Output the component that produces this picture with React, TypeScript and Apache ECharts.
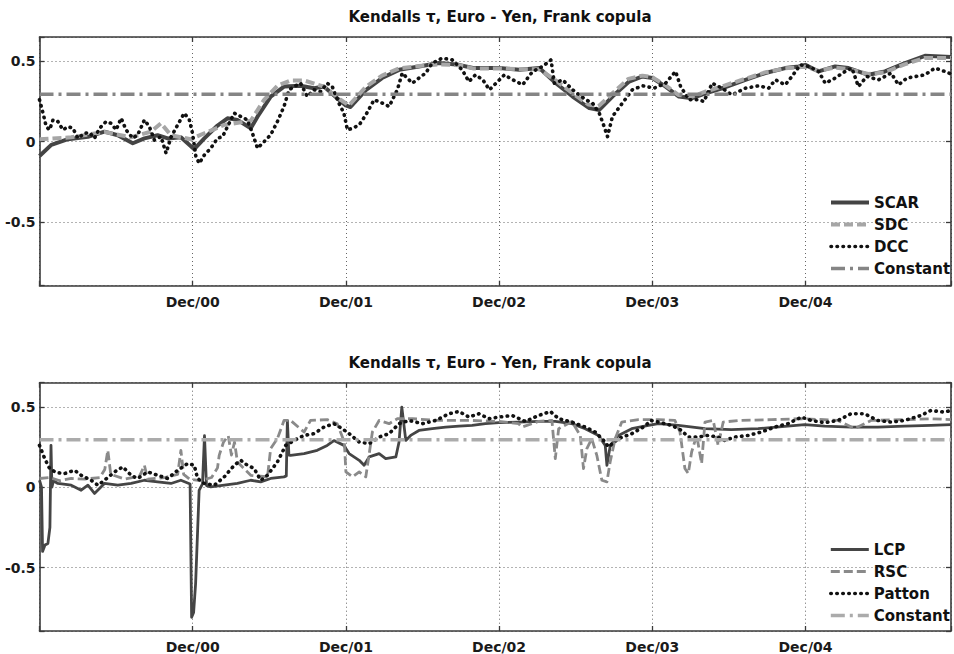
import React, { useEffect, useRef } from "react";
import * as echarts from "echarts";

// x = years since Dec/99
const xTickPos = [1, 2, 3, 4, 5];
const xTickLabels = ["Dec/00", "Dec/01", "Dec/02", "Dec/03", "Dec/04"];
const yTickPos = [-0.5, 0, 0.5];
const yTickLabels = ["-0.5", "0", "0.5"];
const X_MAX = 5.95;
const Y_MIN = -0.895;
const Y_MAX = 0.65;

const titleText = "Kendalls τ, Euro - Yen, Frank copula";
const constantTau = 0.295;

// ---------- top panel ----------
const scar: [number, number][] = [
  [0.0, -0.089], [0.077, -0.02], [0.186, 0.015], [0.316, 0.03], [0.424, 0.062], [0.511, 0.04],
  [0.609, -0.01], [0.685, 0.02], [0.771, 0.04], [0.837, 0.02], [0.923, 0.027], [1.01, -0.047],
  [1.076, 0.02], [1.162, 0.1], [1.227, 0.145], [1.292, 0.135], [1.379, 0.083], [1.423, 0.155],
  [1.509, 0.28], [1.596, 0.342], [1.704, 0.347], [1.792, 0.332], [1.857, 0.342], [1.943, 0.27],
  [1.999, 0.225], [2.03, 0.215], [2.13, 0.32], [2.236, 0.395], [2.347, 0.446], [2.477, 0.467],
  [2.607, 0.488], [2.738, 0.477], [2.829, 0.457], [3.003, 0.457], [3.133, 0.446], [3.263, 0.457],
  [3.371, 0.363], [3.48, 0.28], [3.589, 0.208], [3.654, 0.197], [3.74, 0.28], [3.849, 0.373],
  [3.936, 0.405], [4.001, 0.395], [4.087, 0.342], [4.174, 0.28], [4.261, 0.27], [4.348, 0.3],
  [4.478, 0.338], [4.608, 0.384], [4.738, 0.426], [4.868, 0.457], [4.956, 0.467], [4.999, 0.477],
  [5.086, 0.436], [5.194, 0.467], [5.281, 0.457], [5.411, 0.415], [5.519, 0.436], [5.65, 0.488],
  [5.78, 0.533], [5.95, 0.525],
];

const sdc: [number, number][] = [
  [0.0, 0.015], [0.207, 0.027], [0.424, 0.06], [0.598, 0.027], [0.728, 0.062], [0.793, 0.114],
  [0.858, 0.04], [0.988, 0.015], [1.076, 0.052], [1.206, 0.104], [1.379, 0.13], [1.466, 0.26],
  [1.553, 0.347], [1.639, 0.38], [1.727, 0.38], [1.857, 0.342], [1.965, 0.26], [2.02, 0.225],
  [2.13, 0.34], [2.236, 0.41], [2.347, 0.455], [2.477, 0.47], [2.607, 0.48], [2.738, 0.475],
  [2.829, 0.455], [3.0, 0.455], [3.13, 0.45], [3.26, 0.45], [3.37, 0.38], [3.48, 0.3],
  [3.584, 0.23], [3.649, 0.22], [3.74, 0.3], [3.844, 0.39], [3.936, 0.41], [4.0, 0.4],
  [4.086, 0.35], [4.17, 0.29], [4.26, 0.28], [4.346, 0.31], [4.476, 0.35], [4.606, 0.39],
  [4.736, 0.43], [4.866, 0.455], [4.996, 0.465], [5.087, 0.44], [5.19, 0.46], [5.28, 0.45],
  [5.41, 0.42], [5.517, 0.43], [5.647, 0.48], [5.777, 0.52], [5.95, 0.52],
];

const dcc: [number, number][] = [
  [0.0, 0.26], [0.023, 0.177], [0.044, 0.093], [0.066, 0.073], [0.088, 0.135], [0.12, 0.125],
  [0.153, 0.073], [0.186, 0.093], [0.218, 0.083], [0.251, 0.021], [0.294, 0.052], [0.327, 0.056],
  [0.359, 0.021], [0.392, 0.083], [0.435, 0.125], [0.467, 0.114], [0.5, 0.073], [0.533, 0.146],
  [0.565, 0.073], [0.609, 0.021], [0.641, 0.042], [0.685, 0.135], [0.717, 0.093], [0.75, 0.01],
  [0.793, 0.031], [0.826, -0.072], [0.858, 0.027], [0.902, 0.104], [0.945, 0.177], [0.978, 0.135],
  [0.999, 0.052], [1.021, -0.093], [1.043, -0.135], [1.076, -0.083], [1.118, -0.041], [1.162, 0.021],
  [1.195, 0.031], [1.227, 0.093], [1.271, 0.177], [1.314, 0.156], [1.357, 0.135], [1.39, 0.052],
  [1.423, -0.041], [1.466, 0.0], [1.509, 0.042], [1.553, 0.125], [1.596, 0.218], [1.629, 0.322],
  [1.661, 0.342], [1.704, 0.363], [1.748, 0.28], [1.792, 0.322], [1.835, 0.311], [1.878, 0.363],
  [1.911, 0.342], [1.954, 0.239], [1.987, 0.177], [2.01, 0.073], [2.043, 0.083], [2.087, 0.104],
  [2.13, 0.166], [2.184, 0.26], [2.238, 0.239], [2.282, 0.218], [2.336, 0.322], [2.368, 0.426],
  [2.434, 0.363], [2.477, 0.395], [2.521, 0.426], [2.564, 0.488], [2.629, 0.519], [2.694, 0.508],
  [2.759, 0.446], [2.803, 0.373], [2.846, 0.415], [2.894, 0.384], [2.937, 0.322], [2.98, 0.363],
  [3.035, 0.415], [3.089, 0.384], [3.154, 0.353], [3.219, 0.436], [3.284, 0.467], [3.339, 0.508],
  [3.361, 0.363], [3.415, 0.384], [3.48, 0.322], [3.566, 0.26], [3.61, 0.239], [3.654, 0.177],
  [3.686, 0.093], [3.708, 0.031], [3.74, 0.156], [3.805, 0.239], [3.87, 0.322], [3.936, 0.347],
  [4.012, 0.332], [4.087, 0.363], [4.152, 0.436], [4.185, 0.342], [4.24, 0.26], [4.305, 0.26],
  [4.337, 0.249], [4.391, 0.363], [4.456, 0.332], [4.521, 0.29], [4.608, 0.332], [4.695, 0.347],
  [4.76, 0.332], [4.803, 0.384], [4.868, 0.353], [4.912, 0.405], [4.966, 0.477], [5.021, 0.467],
  [5.086, 0.436], [5.129, 0.363], [5.194, 0.395], [5.259, 0.436], [5.303, 0.457], [5.346, 0.342],
  [5.4, 0.405], [5.477, 0.384], [5.559, 0.426], [5.607, 0.353], [5.662, 0.395], [5.78, 0.415],
  [5.845, 0.457], [5.91, 0.436], [5.95, 0.42],
];

// ---------- bottom panel ----------
const lcp: [number, number][] = [
  [0.0, 0.043], [0.013, 0.0], [0.02, -0.4], [0.036, -0.36], [0.055, -0.35], [0.068, -0.25],
  [0.075, 0.26], [0.081, 0.0], [0.091, 0.04], [0.12, 0.023], [0.207, 0.012], [0.272, -0.019],
  [0.316, 0.012], [0.359, -0.039], [0.424, 0.023], [0.511, 0.012], [0.598, 0.023], [0.685, 0.043],
  [0.771, 0.033], [0.858, 0.023], [0.923, 0.043], [0.983, 0.02], [0.993, -0.81], [1.006, -0.78],
  [1.019, -0.6], [1.029, -0.35], [1.042, -0.02], [1.064, 0.02], [1.077, 0.32], [1.09, 0.01],
  [1.118, 0.002], [1.206, 0.012], [1.292, 0.023], [1.379, 0.043], [1.444, 0.033], [1.509, 0.054],
  [1.596, 0.064], [1.611, 0.07], [1.618, 0.415], [1.628, 0.2], [1.639, 0.198], [1.727, 0.209],
  [1.813, 0.229], [1.878, 0.26], [1.922, 0.29], [1.987, 0.26], [2.021, 0.209], [2.087, 0.167],
  [2.119, 0.136], [2.152, 0.188], [2.217, 0.209], [2.26, 0.178], [2.326, 0.188], [2.347, 0.281],
  [2.365, 0.498], [2.391, 0.291], [2.423, 0.322], [2.477, 0.353], [2.564, 0.364], [2.651, 0.374],
  [2.738, 0.38], [2.824, 0.384], [2.911, 0.395], [2.998, 0.401], [3.128, 0.405], [3.258, 0.409],
  [3.367, 0.409], [3.475, 0.395], [3.562, 0.364], [3.649, 0.322], [3.693, 0.26], [3.704, 0.136],
  [3.726, 0.26], [3.779, 0.322], [3.866, 0.364], [3.975, 0.384], [4.04, 0.395], [4.17, 0.384],
  [4.344, 0.364], [4.517, 0.358], [4.691, 0.364], [4.865, 0.378], [4.995, 0.389], [5.125, 0.38],
  [5.298, 0.374], [5.472, 0.374], [5.646, 0.38], [5.819, 0.384], [5.95, 0.389],
];

const rsc: [number, number][] = [
  [0.0, 0.054], [0.068, 0.06], [0.133, 0.04], [0.207, 0.054], [0.296, 0.05], [0.394, 0.06],
  [0.426, 0.11], [0.446, 0.229], [0.465, 0.08], [0.557, 0.05], [0.654, 0.07], [0.685, 0.136],
  [0.706, 0.05], [0.817, 0.06], [0.902, 0.08], [0.923, 0.229], [0.941, 0.08], [0.98, 0.05],
  [1.045, 0.04], [1.123, 0.06], [1.162, 0.12], [1.173, 0.198], [1.201, 0.28], [1.232, 0.32],
  [1.253, 0.2], [1.273, 0.28], [1.292, 0.157], [1.379, 0.074], [1.488, 0.064], [1.509, 0.24],
  [1.553, 0.302], [1.596, 0.415], [1.639, 0.415], [1.727, 0.343], [1.769, 0.415], [1.878, 0.42],
  [1.943, 0.395], [1.99, 0.281], [2.0, 0.095], [2.043, 0.064], [2.087, 0.095], [2.13, 0.064],
  [2.173, 0.343], [2.217, 0.415], [2.282, 0.395], [2.336, 0.426], [2.434, 0.426], [2.607, 0.415],
  [2.824, 0.415], [2.998, 0.409], [3.128, 0.395], [3.15, 0.374], [3.258, 0.409], [3.345, 0.415],
  [3.367, 0.178], [3.389, 0.364], [3.475, 0.409], [3.53, 0.322], [3.551, 0.116], [3.573, 0.24],
  [3.605, 0.302], [3.638, 0.198], [3.671, 0.043], [3.704, 0.033], [3.725, 0.157], [3.758, 0.302],
  [3.801, 0.405], [3.91, 0.42], [4.04, 0.42], [4.148, 0.415], [4.181, 0.343], [4.213, 0.116],
  [4.235, 0.085], [4.257, 0.219], [4.29, 0.322], [4.322, 0.147], [4.344, 0.405], [4.398, 0.415],
  [4.43, 0.26], [4.463, 0.405], [4.561, 0.415], [4.777, 0.42], [4.995, 0.426], [5.212, 0.415],
  [5.32, 0.364], [5.428, 0.415], [5.646, 0.42], [5.819, 0.426], [5.95, 0.42],
];

const patton: [number, number][] = [
  [0.0, 0.26], [0.034, 0.178], [0.066, 0.116], [0.109, 0.091], [0.164, 0.085], [0.229, 0.105],
  [0.272, 0.074], [0.337, 0.043], [0.381, 0.012], [0.424, 0.043], [0.49, 0.095], [0.544, 0.126],
  [0.598, 0.074], [0.641, 0.054], [0.706, 0.095], [0.771, 0.074], [0.837, 0.054], [0.902, 0.105],
  [0.967, 0.147], [1.01, 0.136], [1.032, 0.054], [1.076, 0.023], [1.141, 0.012], [1.206, 0.064],
  [1.271, 0.136], [1.314, 0.167], [1.357, 0.136], [1.401, 0.116], [1.444, 0.043], [1.488, 0.074],
  [1.553, 0.157], [1.607, 0.26], [1.661, 0.29], [1.727, 0.322], [1.792, 0.333], [1.857, 0.374],
  [1.922, 0.395], [1.976, 0.364], [2.021, 0.333], [2.087, 0.281], [2.152, 0.271], [2.217, 0.312],
  [2.282, 0.333], [2.347, 0.395], [2.412, 0.415], [2.499, 0.395], [2.586, 0.415], [2.673, 0.457],
  [2.738, 0.471], [2.803, 0.436], [2.868, 0.457], [2.933, 0.426], [2.998, 0.436], [3.085, 0.446],
  [3.172, 0.409], [3.258, 0.446], [3.335, 0.471], [3.389, 0.426], [3.475, 0.405], [3.562, 0.374],
  [3.628, 0.343], [3.693, 0.281], [3.714, 0.25], [3.779, 0.302], [3.866, 0.333], [3.952, 0.38],
  [3.99, 0.415], [4.04, 0.405], [4.127, 0.384], [4.191, 0.353], [4.235, 0.312], [4.3, 0.312],
  [4.363, 0.322], [4.428, 0.312], [4.472, 0.291], [4.539, 0.312], [4.626, 0.322], [4.712, 0.343],
  [4.799, 0.374], [4.886, 0.395], [4.973, 0.436], [5.038, 0.415], [5.125, 0.401], [5.212, 0.415],
  [5.298, 0.457], [5.385, 0.457], [5.472, 0.415], [5.559, 0.405], [5.646, 0.415], [5.754, 0.446],
  [5.819, 0.477], [5.906, 0.467], [5.95, 0.477],
];

const FONT = "DejaVu Sans";
const AXIS_COLOR = "#3a3a3a";

function xLabel(v: number): string {
  const i = xTickPos.findIndex((p) => Math.abs(p - v) < 1e-6);
  return i >= 0 ? xTickLabels[i] : "";
}
function yLabel(v: number): string {
  const i = yTickPos.findIndex((p) => Math.abs(p - v) < 1e-6);
  return i >= 0 ? yTickLabels[i] : "";
}

function makeX(gridIndex: number, top: boolean) {
  return {
    type: "value",
    gridIndex,
    position: top ? "top" : "bottom",
    min: 0,
    max: X_MAX,
    interval: 1,
    axisLine: { show: true, onZero: false, lineStyle: { color: AXIS_COLOR, width: 1.6 } },
    axisTick: { show: true, inside: true, length: 5, lineStyle: { color: AXIS_COLOR, width: 1.3 } },
    axisLabel: top
      ? { show: false }
      : { show: true, formatter: xLabel, color: "#1a1a1a", fontFamily: FONT, fontWeight: "bold", fontSize: 14, margin: 9 },
    splitLine: top
      ? { show: false }
      : { show: true, lineStyle: { color: "#666", width: 1, type: [1, 3] } },
  };
}
function makeY(gridIndex: number, right: boolean) {
  return {
    type: "value",
    gridIndex,
    position: right ? "right" : "left",
    min: Y_MIN,
    max: Y_MAX,
    splitNumber: 3,
    axisLine: { show: true, onZero: false, lineStyle: { color: AXIS_COLOR, width: 1.6 } },
    axisTick: { show: true, inside: true, length: 5, lineStyle: { color: AXIS_COLOR, width: 1.3 } },
    axisLabel: right
      ? { show: false }
      : { show: true, formatter: yLabel, color: "#1a1a1a", fontFamily: FONT, fontWeight: "bold", fontSize: 14, margin: 4 },
    splitLine: right
      ? { show: false }
      : { show: true, lineStyle: { color: "#666", width: 1, type: [1, 3] } },
  };
}

function lineSeries(name: string, data: [number, number][], axis: number, color: string, width: number, type: any, z: number, cap = "butt") {
  return {
    name,
    type: "line",
    xAxisIndex: axis,
    yAxisIndex: axis,
    data,
    showSymbol: false,
    symbol: "none",
    smooth: false,
    z,
    lineStyle: { color, width, type, cap, join: "round" },
    itemStyle: { color },
    emphasis: { disabled: true },
  };
}

export default function App() {
  const ref = useRef<HTMLDivElement>(null);
  useEffect(() => {
    if (!ref.current) return;
    const chart = echarts.init(ref.current, null, { renderer: "svg" });
    const dashDot = [14, 5, 3, 5];
    const dotted = [0.5, 5.5];
    const dashed = [9, 4];
    const legendCommon = {
      orient: "vertical",
      left: 829,
      itemWidth: 38,
      itemHeight: 14,
      itemGap: 7,
      padding: 0,
      selectedMode: false,
      textStyle: { fontFamily: FONT, fontWeight: "bold", fontSize: 15, color: "#111" },
      lineStyle: { width: "inherit" },
      itemStyle: { opacity: 0, color: "transparent", borderColor: "transparent", borderWidth: 0 },
    };
    chart.setOption({
      animation: false,
      backgroundColor: "#ffffff",
      grid: [
        { left: 39.5, top: 37, width: 913.5, height: 248.7, containLabel: false },
        { left: 39.5, top: 382.7, width: 913.5, height: 249, containLabel: false },
      ],
      xAxis: [makeX(0, false), makeX(0, true), makeX(1, false), makeX(1, true)],
      yAxis: [makeY(0, false), makeY(0, true), makeY(1, false), makeY(1, true)],
      legend: [
        { ...legendCommon, top: 195, data: ["SCAR", "SDC", "DCC", "Constant"] },
        { ...legendCommon, top: 542, data: ["LCP", "RSC", "Patton", "Constant "] },
      ],
      graphic: [
        {
          type: "text",
          x: 500,
          y: 17,
          style: { text: titleText, textAlign: "center", textVerticalAlign: "middle", font: `bold 15px "${FONT}"`, fill: "#111" },
        },
        {
          type: "text",
          x: 500,
          y: 363,
          style: { text: titleText, textAlign: "center", textVerticalAlign: "middle", font: `bold 15px "${FONT}"`, fill: "#111" },
        },
      ],
      series: [
        lineSeries("SCAR", scar, 0, "#444444", 4, "solid", 2),
        lineSeries("SDC", sdc, 0, "#a6a6a6", 4, dashed, 3),
        lineSeries("DCC", dcc, 0, "#111111", 3.6, dotted, 4, "round"),
        lineSeries("Constant", [[0, constantTau], [X_MAX, constantTau]], 0, "#858585", 3.5, dashDot, 5),
        lineSeries("LCP", lcp, 2, "#454545", 2.8, "solid", 2),
        lineSeries("RSC", rsc, 2, "#8a8a8a", 2.8, dashed, 3),
        lineSeries("Patton", patton, 2, "#111111", 3.6, dotted, 4, "round"),
        lineSeries("Constant ", [[0, constantTau], [X_MAX, constantTau]], 2, "#ababab", 3.5, dashDot, 5),
      ],
    });
    return () => chart.dispose();
  }, []);
  return <div ref={ref} style={{ position: "fixed", left: 0, top: 0, width: 954, height: 654 }} />;
}
